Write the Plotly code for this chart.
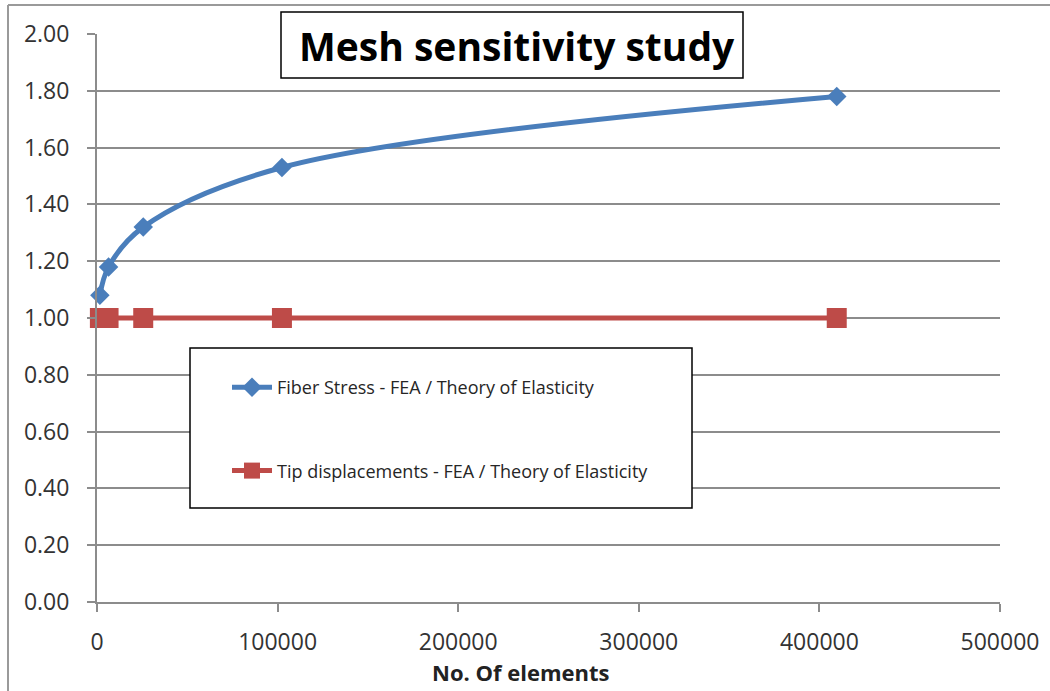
import plotly.graph_objects as go

# Mesh refinement levels (element counts) and normalised results
elements = [1600, 6400, 25600, 102400, 409600]
fiber_stress_ratio = [1.08, 1.18, 1.32, 1.53, 1.78]
tip_disp_ratio = [1.00, 1.00, 1.00, 1.00, 1.00]

series_names = [
    "Fiber Stress - FEA / Theory of Elasticity",
    "Tip displacements - FEA / Theory of Elasticity",
]
y_ticks = [0.0, 0.2, 0.4, 0.6, 0.8, 1.0, 1.2, 1.4, 1.6, 1.8, 2.0]
x_ticks = [0, 100000, 200000, 300000, 400000, 500000]

BLUE = "#4A7EBB"
RED = "#BE4B48"
GRID = "#8C8C8C"
FONT = "Open Sans"

W, H = 1050, 691
L, R, T, B = 97, 50, 34, 89
PW, PH = W - L - R, H - T - B


def px(x):
    return (x - L) / PW


def py(y):
    return (H - B - y) / PH


fig = go.Figure()
fig.add_trace(go.Scatter(
    x=elements, y=fiber_stress_ratio, name=series_names[0],
    mode="lines+markers", line=dict(color=BLUE, width=5, shape="spline", smoothing=1.0),
    marker=dict(symbol="diamond", size=15, color=BLUE),
    legendgroup="a", cliponaxis=False,
))
fig.add_trace(go.Scatter(
    x=elements, y=tip_disp_ratio, name=series_names[1],
    mode="lines+markers", line=dict(color=RED, width=5, shape="spline"),
    marker=dict(symbol="square", size=20, color=RED),
    legendgroup="b", cliponaxis=False,
))

fig.update_layout(
    width=W, height=H, autosize=False,
    margin=dict(l=L, r=R, t=T, b=B),
    paper_bgcolor="white", plot_bgcolor="white",
    font=dict(family=FONT, color="#333333"),
    showlegend=True,
    legend=dict(
        x=px(227), y=py(369), xanchor="left", yanchor="top",
        bgcolor="rgba(0,0,0,0)", borderwidth=0,
        font=dict(family=FONT, size=18, color="#262626"),
        traceorder="grouped", tracegroupgap=57,
        itemwidth=40,
    ),
    xaxis=dict(
        range=[0, 500000], tickvals=x_ticks, tickformat="d",
        showgrid=False, zeroline=False,
        showline=True, linecolor=GRID, linewidth=2,
        ticks="outside", ticklen=8, tickcolor=GRID, tickwidth=2,
        tickfont=dict(family=FONT, size=23, color="#333333"),
        ticklabelstandoff=10,
    ),
    yaxis=dict(
        range=[0, 2], tickvals=y_ticks, tickformat=".2f",
        showgrid=True, gridcolor=GRID, gridwidth=2, zeroline=False,
        showline=True, linecolor=GRID, linewidth=2,
        ticks="outside", ticklen=8, tickcolor=GRID, tickwidth=2,
        tickfont=dict(family=FONT, size=23, color="#333333"),
        ticklabelstandoff=13,
    ),
    shapes=[
        # chart frame (top and left edges)
        dict(type="line", xref="paper", yref="paper",
             x0=px(8), x1=px(1052), y0=py(5), y1=py(5),
             line=dict(color="#9A9A9A", width=2)),
        dict(type="line", xref="paper", yref="paper",
             x0=px(8), x1=px(8), y0=py(5), y1=py(693),
             line=dict(color="#9A9A9A", width=2)),
        # title box
        dict(type="rect", xref="paper", yref="paper", layer="above",
             x0=px(281), x1=px(743), y0=py(12), y1=py(78),
             fillcolor="white", line=dict(color="black", width=1.5)),
        # legend box
        dict(type="rect", xref="paper", yref="paper", layer="above",
             x0=px(190), x1=px(692), y0=py(348), y1=py(508),
             fillcolor="white", line=dict(color="black", width=1.5)),
    ],
    annotations=[
        dict(text="<b>Mesh sensitivity study</b>", xref="paper", yref="paper",
             x=px(517), y=py(45), xanchor="center", yanchor="middle",
             showarrow=False, font=dict(family=FONT, size=39, color="black")),
        dict(text="<b>No. Of elements</b>", xref="paper", yref="paper",
             x=px(521), y=py(672), xanchor="center", yanchor="middle",
             showarrow=False, font=dict(family=FONT, size=22, color="#222222")),
    ],
)

fig.write_html("out.html")
